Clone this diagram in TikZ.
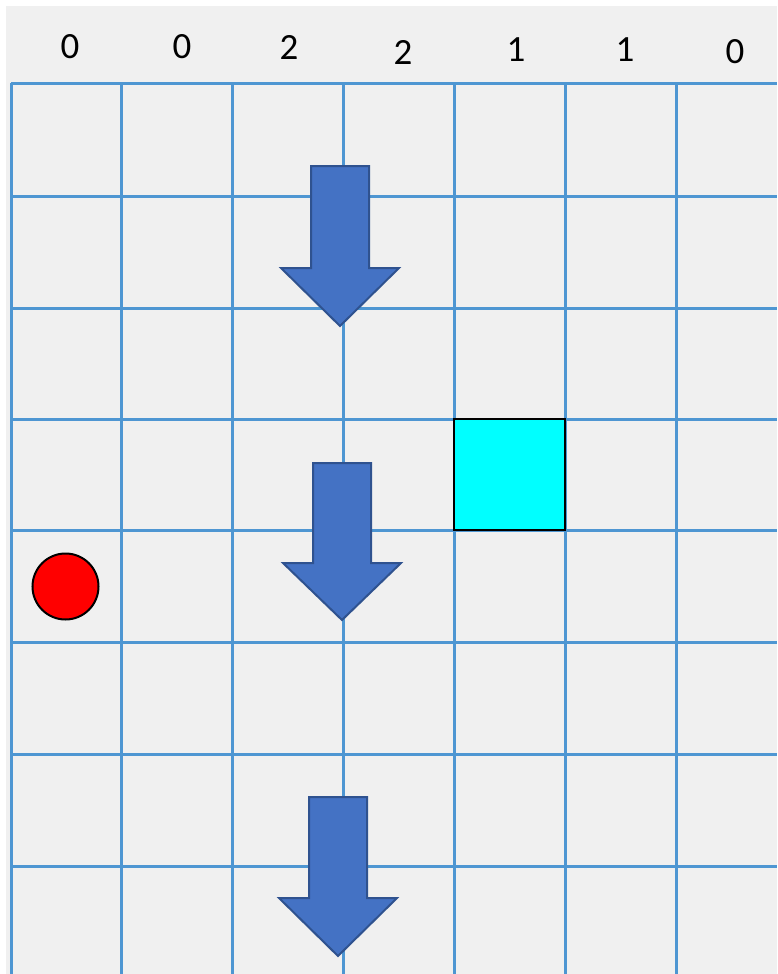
\documentclass[tikz,border=0pt]{standalone}
\usepackage{fontspec}
\setmainfont{Carlito}
\usetikzlibrary{positioning}
\definecolor{cellbg}{RGB}{240,240,240}
\definecolor{gridblue}{RGB}{78,150,210}
\definecolor{arrowfill}{RGB}{68,114,196}
\definecolor{arrowedge}{RGB}{47,82,143}
\definecolor{goalcyan}{RGB}{0,255,255}
\tikzset{
  gridline/.style={gridblue,line width=3pt},
  blockarrow/.style={fill=arrowfill,draw=arrowedge,line width=2pt,line join=miter},
  count/.style={font=\fontsize{37}{44}\selectfont,inner sep=0pt}
}

\begin{document}
\begin{tikzpicture}[x=1pt,y=-1pt]
\useasboundingbox (0,0) rectangle (777,974);
\fill[cellbg] (6,6) rectangle (777,974);
% grid
\foreach \x in {11,121,232,343,454,565,676} {\draw[gridline] (\x,83)--(\x,974);}
\foreach \y in {83,196,308,419,530,642,754,866} {\draw[gridline] (11,\y)--(777,\y);}
% column counts
\node[count] (c1) at (70,47) {0};
\node[count] (c2) at (182,47) {0};
\node[count] (c3) at (289,47) {2};
\node[count] (c4) at (403,52) {2};
\node[count] (c5) at (516,50) {1};
\node[count] (c6) at (625,50) {1};
\node[count] (c7) at (735,52) {0};
% goal cell and agent
\node[draw=black,line width=2pt,fill=goalcyan,minimum size=111pt,inner sep=0pt] (goal) at (509.5,474.5) {};
\node[circle,draw=black,line width=2pt,fill=red,minimum size=66pt,inner sep=0pt] (agent) at (65.5,586.5) {};
% falling arrows
\foreach \cx/\ya/\yb/\yc in {340/166/268/326, 342/463/563/620, 338/797/898/956}
  {\draw[blockarrow] (\cx-29,\ya)--(\cx+29,\ya)--(\cx+29,\yb)--(\cx+59,\yb)--(\cx,\yc)--(\cx-59,\yb)--(\cx-29,\yb)--cycle;}
\end{tikzpicture}
\end{document}
